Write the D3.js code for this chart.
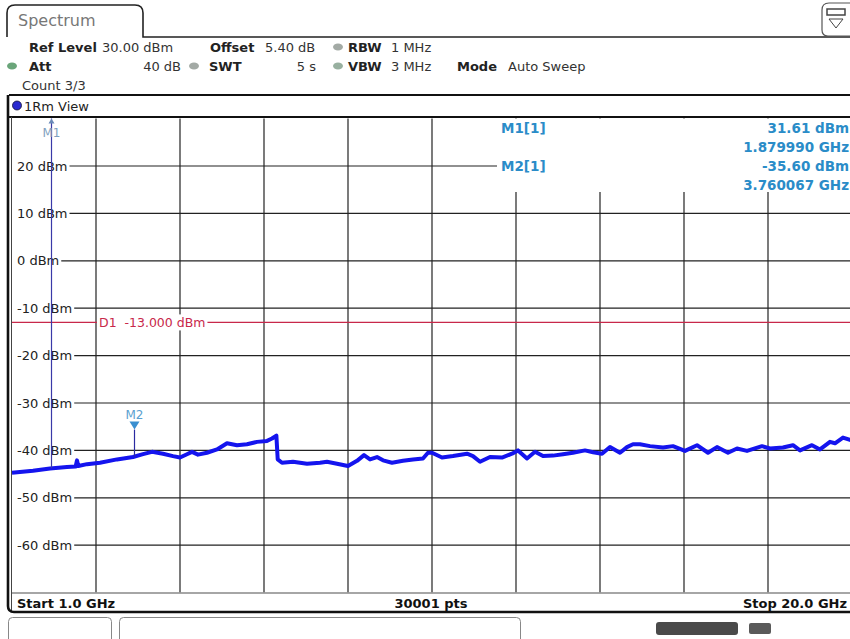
<!DOCTYPE html>
<html>
<head>
<meta charset="utf-8">
<script src="https://cdn.jsdelivr.net/npm/d3@7"></script>
<style>
  body { margin: 0; background: #fff; }
  svg { display: block; font-family: "DejaVu Sans", Verdana, sans-serif; }
</style>
</head>
<body>
<div id="wrapper"></div>
<script>
// trace, GHz / dBm
const freqGHz = [1.00, 1.475, 1.86, 2.244, 2.44, 2.47, 2.50, 2.696, 2.99, 3.375, 3.737, 3.963, 4.167, 4.415, 4.642, 4.80,
  4.958, 5.071, 5.207, 5.411, 5.637, 5.863, 6.089, 6.315, 6.542, 6.768, 6.881, 6.98, 7.01, 7.107, 7.356, 7.673,
  7.967, 8.125, 8.351, 8.60, 8.804, 8.962, 9.098, 9.256, 9.392, 9.595, 9.844, 10.07, 10.296, 10.409, 10.50, 10.726,
  10.975, 11.292, 11.427, 11.586, 11.812, 12.083, 12.31, 12.445, 12.649, 12.83, 13.011, 13.237, 13.463, 13.689, 13.961,
  14.142, 14.345, 14.526, 14.752, 14.91, 15.046, 15.204, 15.431, 15.725, 15.951, 16.222, 16.494, 16.743, 16.946, 17.195,
  17.399, 17.625, 17.964, 18.145, 18.439, 18.665, 18.824, 19.095, 19.276, 19.502, 19.615, 19.796, 19.955, 20.0]
const levelDbm = [-44.7, -44.3, -43.8, -43.5, -43.4, -42.1, -43.3, -42.9, -42.6, -41.9, -41.4, -40.8, -40.3, -40.7, -41.2, -41.5,
  -40.8, -40.3, -40.9, -40.5, -39.8, -38.5, -38.9, -38.7, -38.2, -38.0, -37.5, -36.9, -41.9, -42.6, -42.4, -42.8,
  -42.6, -42.4, -42.8, -43.3, -42.2, -41.0, -41.9, -41.4, -42.1, -42.6, -42.2, -41.9, -41.7, -40.5, -40.5, -41.5,
  -41.2, -40.7, -41.2, -42.4, -41.4, -41.5, -40.7, -40.0, -41.7, -40.3, -41.2, -41.1, -40.8, -40.5, -40.0,
  -40.4, -40.7, -39.3, -40.5, -39.3, -38.7, -38.7, -39.1, -39.4, -39.1, -40.1, -38.9, -40.5, -39.3, -40.5,
  -39.6, -40.1, -39.1, -39.6, -39.4, -38.9, -40.0, -38.9, -39.8, -38.2, -38.5, -37.3, -37.8, -37.6]

const levelTicks = [20, 10, 0, -10, -20, -30, -40, -50, -60]
const freqTicks = [2.9, 4.8, 6.7, 8.6, 10.5, 12.4, 14.3, 16.2, 18.1]
const displayLineDbm = -13
const markerNames = ["M1", "M2"]
const markerFreqGHz = [1.879990, 3.760067]
const markerLevelDbm = [31.61, -35.60]

function drawChart() {

  const svg = d3.select("#wrapper").append("svg")
      .attr("width", 850)
      .attr("height", 639)

  const x = d3.scaleLinear().domain([1, 20]).range([12, 852])
  const y = d3.scaleLinear().domain([-70, 30]).range([592.6, 118.6])

  // tab + header
  svg.append("path")
      .attr("d", "M7,37 L7,13 Q7,5 15,5 L135,5 Q143,5 143,13 L143,37 L852,37")
      .attr("fill", "none").attr("stroke", "#222").attr("stroke-width", 1.6)
  svg.append("text").attr("x", 18).attr("y", 26)
      .attr("font-size", 16).attr("fill", "#777").text("Spectrum")

  svg.append("path")
      .attr("d", "M852,3 L829,3 Q822,3 822,10 L822,30 Q822,36 828,36 L852,36")
      .attr("fill", "#fff").attr("stroke", "#555").attr("stroke-width", 1.2)
  svg.append("rect").attr("x", 827).attr("y", 9).attr("width", 18).attr("height", 6)
      .attr("fill", "none").attr("stroke", "#444").attr("stroke-width", 1.5)
  svg.append("path").attr("d", "M829,19 L843,19 L836,28 Z")
      .attr("fill", "none").attr("stroke", "#444").attr("stroke-width", 1)

  const header = [
    ["Ref Level", 29, 52, true, "start"], ["30.00 dBm", 102, 52, false, "start"],
    ["Offset", 210, 52, true, "start"], ["5.40 dB", 265, 52, false, "start"],
    ["RBW", 348, 52, true, "start"], ["1 MHz", 391, 52, false, "start"],
    ["Att", 29, 71, true, "start"], ["40 dB", 181, 71, false, "end"],
    ["SWT", 209, 71, true, "start"], ["5 s", 316, 71, false, "end"],
    ["VBW", 348, 71, true, "start"], ["3 MHz", 391, 71, false, "start"],
    ["Mode", 457, 71, true, "start"], ["Auto Sweep", 508, 71, false, "start"],
    ["Count 3/3", 22, 90, false, "start"],
  ]
  svg.selectAll(".hdr").data(header).enter().append("text")
      .attr("class", "hdr")
      .attr("x", d => d[1]).attr("y", d => d[2])
      .attr("font-size", 13)
      .attr("font-weight", d => d[3] ? "bold" : "normal")
      .attr("text-anchor", d => d[4])
      .attr("fill", d => d[3] ? "#222" : "#333")
      .text(d => d[0])

  const dots = [[338, 47, "#a3aaa5"], [12, 66, "#6aa57a"], [194, 66, "#a3aaa5"], [338, 66, "#98b0a0"]]
  svg.selectAll(".dot").data(dots).enter().append("ellipse")
      .attr("cx", d => d[0]).attr("cy", d => d[1]).attr("rx", 5).attr("ry", 3.5)
      .attr("fill", d => d[2])

  // frame
  svg.append("line").attr("x1", 9).attr("x2", 852).attr("y1", 95).attr("y2", 95)
      .attr("stroke", "#111").attr("stroke-width", 2)
  svg.append("line").attr("x1", 9).attr("x2", 852).attr("y1", 117).attr("y2", 117)
      .attr("stroke", "#111").attr("stroke-width", 2)
  svg.append("circle").attr("cx", 17).attr("cy", 105.5).attr("r", 4.5)
      .attr("fill", "#2a2ad0").attr("stroke", "#113").attr("stroke-width", 0.8)
  svg.append("text").attr("x", 24).attr("y", 111).attr("font-size", 13)
      .attr("fill", "#222").text("1Rm View")

  const grid = svg.append("g")

  // vertical grid
  grid.selectAll(".vgrid").data(freqTicks).enter().append("line")
      .attr("x1", d => x(d)).attr("x2", d => x(d))
      .attr("y1", y(30)).attr("y2", y(-70))
      .attr("stroke", "#222").attr("stroke-width", 1.2)

  // horizontal grid
  grid.selectAll(".hgrid").data(levelTicks).enter().append("line")
      .attr("x1", 12).attr("x2", 852)
      .attr("y1", d => y(d)).attr("y2", d => y(d))
      .attr("stroke", "#222").attr("stroke-width", 1.2)

  const labels = grid.selectAll(".ylab").data(levelTicks).enter().append("g")
  labels.append("rect").attr("class", "bg")
  labels.append("text")
      .attr("x", 17).attr("y", d => y(d) + 4.5)
      .attr("font-size", 13).attr("fill", "#222")
      .text(d => `${d} dBm`)
  labels.each(function (d) {
    const g = d3.select(this)
    const w = g.select("text").node().getComputedTextLength()
    g.select("rect").attr("x", 12).attr("y", y(d) - 8).attr("width", w + 7).attr("height", 16).attr("fill", "#fff")
  })

  // display line D1
  svg.append("line").attr("x1", 12).attr("x2", 852)
      .attr("y1", y(displayLineDbm)).attr("y2", y(displayLineDbm))
      .attr("stroke", "#c8284a").attr("stroke-width", 1.2)
  const d1 = svg.append("g")
  const d1bg = d1.append("rect")
  const d1text = d1.append("text").attr("x", 99).attr("y", y(displayLineDbm) + 4.5)
      .attr("font-size", 12.5).attr("fill", "#c8284a").style("white-space", "pre")
      .text(`D1  ${displayLineDbm.toFixed(3)} dBm`)
  d1bg.attr("x", 97).attr("y", y(displayLineDbm) - 8)
      .attr("width", d1text.node().getComputedTextLength() + 4).attr("height", 16).attr("fill", "#fff")

  // trace
  const trace = freqGHz.map((f, i) => [f, levelDbm[i]])
  svg.append("path")
      .datum(trace)
      .attr("d", d3.line().x(d => x(d[0])).y(d => y(d[1])))
      .attr("fill", "none").attr("stroke", "#1414ee")
      .attr("stroke-width", 4).attr("stroke-linejoin", "round")

  // markers
  const bisect = d3.bisector(d => d[0]).left
  const traceAt = f => {
    const i = bisect(trace, f)
    const a = trace[i - 1], b = trace[i]
    return a[1] + (b[1] - a[1]) * (f - a[0]) / (b[0] - a[0])
  }
  markerNames.forEach((name, i) => {
    const mx = Math.round(x(markerFreqGHz[i])) + 0.5
    const onTrace = y(traceAt(markerFreqGHz[i]))
    if (markerLevelDbm[i] > 30) {
      svg.append("line").attr("x1", mx).attr("x2", mx).attr("y1", y(30)).attr("y2", onTrace)
          .attr("stroke", "#3a3aa8").attr("stroke-width", 1.2)
      svg.append("path").attr("d", `M${mx - 3},${y(30) + 5} L${mx + 3},${y(30) + 5} L${mx},${y(30)} Z`)
          .attr("fill", "#6a8ab8")
      svg.append("text").attr("x", mx).attr("y", 137).attr("text-anchor", "middle")
          .attr("font-size", 12).attr("fill", "#7f9fc0").text(name)
    } else {
      const my = y(markerLevelDbm[i])
      svg.append("line").attr("x1", mx).attr("x2", mx).attr("y1", my).attr("y2", onTrace)
          .attr("stroke", "#2a2aa0").attr("stroke-width", 1.2)
      svg.append("path").attr("d", `M${mx - 5},${my - 8} L${mx + 5},${my - 8} L${mx},${my} Z`)
          .attr("fill", "#3a8fd0")
      svg.append("text").attr("x", mx).attr("y", my - 11).attr("text-anchor", "middle")
          .attr("font-size", 12).attr("fill", "#5a9fd0").text(name)
    }
  })

  // marker table
  svg.append("rect").attr("x", 497).attr("y", 119).attr("width", 356).attr("height", 73).attr("fill", "#fff")
  const tableRows = []
  markerNames.forEach((name, i) => {
    tableRows.push([`${name}[1]`, `${markerLevelDbm[i].toFixed(2)} dBm`])
    tableRows.push(["", `${markerFreqGHz[i].toFixed(6)} GHz`])
  })
  const rows = svg.selectAll(".mrow").data(tableRows).enter().append("g")
  rows.append("text").attr("x", 501).attr("y", (d, i) => 133 + i * 19)
      .attr("font-size", 13.5).attr("font-weight", "bold").attr("fill", "#2a8cc8").text(d => d[0])
  rows.append("text").attr("x", 849).attr("y", (d, i) => 133 + i * 19)
      .attr("text-anchor", "end")
      .attr("font-size", 13.5).attr("font-weight", "bold").attr("fill", "#2a8cc8").text(d => d[1])

  // footer bar
  svg.append("line").attr("x1", 12).attr("x2", 852).attr("y1", 593).attr("y2", 593)
      .attr("stroke", "#888").attr("stroke-width", 1.5)
  svg.append("line").attr("x1", 11.5).attr("x2", 11.5).attr("y1", 117).attr("y2", 612)
      .attr("stroke", "#444").attr("stroke-width", 1)
  svg.append("path").attr("d", "M8,95 L8,606 Q8,612 14,612 L852,612")
      .attr("fill", "none").attr("stroke", "#111").attr("stroke-width", 2.6)
  const foot = [["Start 1.0 GHz", 17, "start"], ["30001 pts", 431, "middle"], ["Stop 20.0 GHz", 847, "end"]]
  svg.selectAll(".foot").data(foot).enter().append("text")
      .attr("x", d => d[1]).attr("y", 608).attr("text-anchor", d => d[2])
      .attr("font-size", 13).attr("font-weight", "bold").attr("fill", "#111")
      .text(d => d[0])

  // softkey boxes under the screen
  svg.append("rect").attr("x", 8.5).attr("y", 617.5).attr("width", 103).attr("height", 30).attr("rx", 4)
      .attr("fill", "none").attr("stroke", "#888")
  svg.append("rect").attr("x", 119.5).attr("y", 617.5).attr("width", 401).attr("height", 30).attr("rx", 4)
      .attr("fill", "none").attr("stroke", "#888")
  svg.append("rect").attr("x", 656).attr("y", 622).attr("width", 82).attr("height", 13).attr("rx", 3)
      .attr("fill", "#4a4a4a")
  svg.append("rect").attr("x", 749).attr("y", 623).attr("width", 22).attr("height", 11).attr("rx", 2)
      .attr("fill", "#5a5a5a")
}
drawChart()
</script>
</body>
</html>
